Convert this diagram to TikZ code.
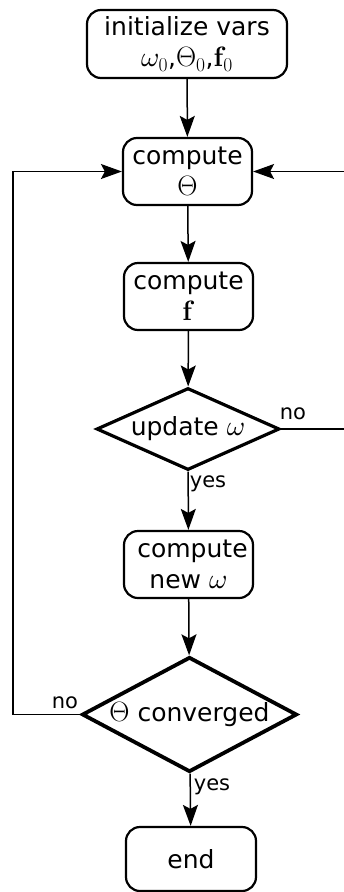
\RequirePackage{fix-cm}
\documentclass[tikz,border=0pt]{standalone}
\usepackage[no-math]{fontspec}
\setmainfont{DejaVu Sans}
\DeclareFontFamily{OML}{cmm}{\skewchar\font127 }
\DeclareFontShape{OML}{cmm}{m}{it}{<->cmmi10}{}
\DeclareFontShape{OML}{cmm}{b}{it}{<->cmmib10}{}
\usetikzlibrary{shapes.geometric,arrows.meta}
\newcommand\mth[1]{{\fontsize{28}{31}\selectfont$#1$}}
\begin{document}
\begin{tikzpicture}[x=1pt,y=-1pt,
  box/.style={draw,line width=2.2pt,rounded corners=14pt,inner sep=0pt,align=center,
    font=\fontsize{25}{31}\selectfont},
  decision/.style={draw,diamond,inner sep=0pt,align=center,
    font=\fontsize{25}{27}\selectfont},
  conn/.style={line width=1.5pt},
  arr/.style={conn,-{Stealth[length=21pt,width=15pt,inset=4pt]}},
  lbl/.style={font=\fontsize{21}{23}\selectfont,inner sep=0pt}]
\useasboundingbox (0,0) rectangle (343,892);
\node[box,minimum width=200pt,minimum height=68pt] (init) at (187,44)
  {initialize vars\\\mth{\omega_0},\mth{\Theta_0},\mth{\mathbf{f}_0}};
\node[box,minimum width=129pt,minimum height=67pt] (ctheta) at (187.5,171.5)
  {compute\\\mth{\Theta}};
\node[box,minimum width=129pt,minimum height=67pt] (cf) at (188.5,296.5)
  {compute\\\mth{\mathbf{f}}};
\node[decision,line width=3.2pt,aspect=2.23,minimum width=183pt,minimum height=82pt] (upd) at (188,429)
  {update \mth{\omega}};
\node[box,minimum width=129pt,minimum height=67pt] (cnew) at (188.5,564.5)
  {\ compute\\new \mth{\omega}};
\node[decision,line width=3.8pt,aspect=1.87,minimum width=215pt,minimum height=115pt] (conv) at (189.5,714.5)
  {\mth{\Theta} converged};
\node[box,minimum width=130pt,minimum height=64pt] (end) at (191,859)
  {end};
\coordinate (rb) at (345,429);
\coordinate (rt) at (345,171.5);
\coordinate (lb) at (13,714.5);
\coordinate (lt) at (13,171.5);
\draw[arr] (init) -- (ctheta);
\draw[arr] (ctheta) -- (cf);
\draw[arr] (cf) -- (upd);
\draw[arr] (upd) -- (cnew);
\draw[arr] (cnew) -- (conv);
\draw[arr] (conv) -- (end);
\draw[arr] (upd.east) -- (rb) -- (rt) -- (ctheta.east);
\draw[arr] (conv.west) -- (lb) -- (lt) -- (ctheta.west);
\node[lbl] (no1) at (293,414) {no};
\node[lbl] (no2) at (65,703) {no};
\node[lbl] (yes1) at (208,484) {yes};
\node[lbl] (yes2) at (212,787) {yes};
\end{tikzpicture}
\end{document}
